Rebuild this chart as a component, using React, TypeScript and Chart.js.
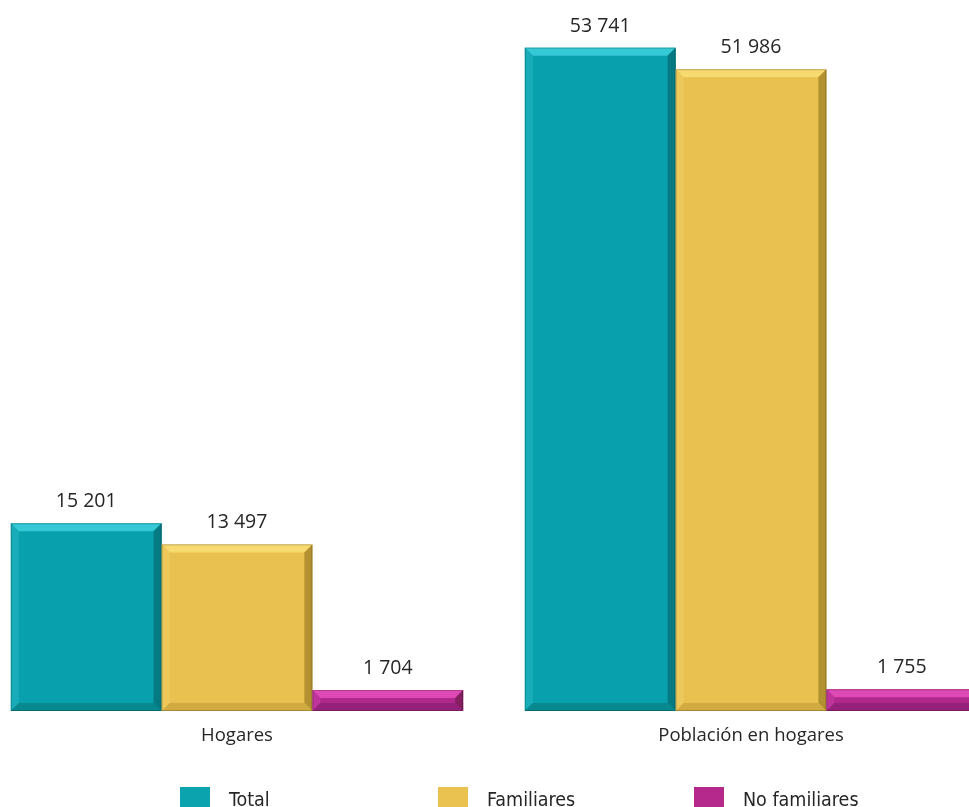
import React, { useEffect, useRef } from "react";
import { Chart, registerables } from "chart.js";

Chart.register(...registerables);

// ---- data ----
const categories = ["Hogares", "Población en hogares"];
const seriesNames = ["Total", "Familiares", "No familiares"];
const totalValues = [15201, 53741];
const familiaresValues = [13497, 51986];
const noFamiliaresValues = [1704, 1755];
const yMax = 57600;

// ---- styles ----
const palette = [
  { base: "#08A0AC", top: "#34C9D5", left: "#17ACB8", right: "#067A82", bottom: "#07888F" },
  { base: "#E8C150", top: "#F6DA70", left: "#EDC85A", right: "#B39130", bottom: "#D1AB42" },
  { base: "#B0288C", top: "#DE4AB5", left: "#BE349A", right: "#84205F", bottom: "#96217A" },
];
const legendColors = ["#0BA3AE", "#EAC250", "#B5288C"];

const CANVAS_W = 1068;
const CANVAS_H = 807;
const OFFSET_X = -40;

const fmt = (v: number) => String(v).replace(/\B(?=(\d{3})+(?!\d))/g, " ");

const bevelPlugin = {
  id: "bevel",
  afterDatasetsDraw(chart: any) {
    const ctx = chart.ctx;
    chart.data.datasets.forEach((ds: any, di: number) => {
      const meta = chart.getDatasetMeta(di);
      const p = palette[di];
      meta.data.forEach((bar: any) => {
        const { x, y, base, width } = bar.getProps(["x", "y", "base", "width"], true);
        const l = x - width / 2;
        const r = x + width / 2;
        const t = Math.min(y, base);
        const bt = Math.max(y, base);
        const h = bt - t;
        const b = Math.min(8, h / 2.5);
        ctx.save();
        const poly = (pts: number[][], color: string) => {
          ctx.beginPath();
          ctx.moveTo(pts[0][0], pts[0][1]);
          for (let i = 1; i < pts.length; i++) ctx.lineTo(pts[i][0], pts[i][1]);
          ctx.closePath();
          ctx.fillStyle = color;
          ctx.fill();
        };
        poly([[l, t], [r, t], [r - b, t + b], [l + b, t + b]], p.top);
        poly([[l, t], [l + b, t + b], [l + b, bt - b], [l, bt]], p.left);
        poly([[r, t], [r, bt], [r - b, bt - b], [r - b, t + b]], p.right);
        poly([[l, bt], [l + b, bt - b], [r - b, bt - b], [r, bt]], p.bottom);
        ctx.strokeStyle = "rgba(0,0,0,0.2)";
        ctx.lineWidth = 1;
        ctx.strokeRect(l + 0.5, t + 0.5, width - 1, h - 1);
        ctx.restore();
      });
    });
  },
};

const valueLabelPlugin = {
  id: "valueLabels",
  afterDatasetsDraw(chart: any) {
    const ctx = chart.ctx;
    ctx.save();
    ctx.font = "19.5px 'Open Sans', 'Noto Sans', sans-serif";
    ctx.fillStyle = "#262626";
    ctx.textAlign = "center";
    ctx.textBaseline = "alphabetic";
    chart.data.datasets.forEach((ds: any, di: number) => {
      const meta = chart.getDatasetMeta(di);
      meta.data.forEach((bar: any, i: number) => {
        ctx.fillText(fmt(ds.data[i]), bar.x, bar.y - 16);
      });
    });
    ctx.restore();
  },
};

const legendPlugin = {
  id: "customLegend",
  afterDraw(chart: any) {
    const ctx = chart.ctx;
    const boxXs = [220, 478, 734];
    ctx.save();
    ctx.font = "19.5px 'Liberation Sans Narrow', 'DejaVu Sans Condensed', sans-serif";
    ctx.textAlign = "left";
    ctx.textBaseline = "alphabetic";
    chart.data.datasets.forEach((ds: any, di: number) => {
      const bx = boxXs[di];
      ctx.fillStyle = legendColors[di];
      ctx.fillRect(bx, 787, 30, 22);
      ctx.fillStyle = "#262626";
      ctx.fillText(ds.label, bx + 49, 806);
    });
    ctx.restore();
  },
};

export default function App() {
  const ref = useRef<HTMLCanvasElement | null>(null);

  useEffect(() => {
    if (!ref.current) return;
    const datasets = [totalValues, familiaresValues, noFamiliaresValues].map((vals, i) => ({
      label: seriesNames[i],
      data: vals,
      backgroundColor: palette[i].base,
      borderWidth: 0,
      categoryPercentage: 0.88,
      barPercentage: 1.0,
    }));
    const chart = new Chart(ref.current, {
      type: "bar",
      data: { labels: categories, datasets },
      options: {
        responsive: false,
        animation: false,
        layout: { padding: { left: 20, right: 20, top: 0, bottom: 0 } },
        plugins: { legend: { display: false }, tooltip: { enabled: false } },
        scales: {
          x: {
            grid: { display: false, drawTicks: false },
            border: { display: false },
            ticks: {
              color: "#262626",
              font: { family: "'Open Sans', 'Noto Sans', sans-serif", size: 18.5 },
              padding: 14,
            },
            afterFit: (scale: any) => {
              scale.height = 96;
            },
          },
          y: {
            display: false,
            min: 0,
            max: yMax,
          },
        },
      },
      plugins: [bevelPlugin, valueLabelPlugin, legendPlugin],
    });
    return () => chart.destroy();
  }, []);

  return (
    <div
      style={{
        position: "fixed",
        left: 0,
        top: 0,
        width: 969,
        height: 807,
        overflow: "hidden",
        background: "#fff",
      }}
    >
      <canvas
        ref={ref}
        width={CANVAS_W}
        height={CANVAS_H}
        style={{ position: "absolute", left: OFFSET_X, top: 0, width: CANVAS_W, height: CANVAS_H }}
      />
    </div>
  );
}
